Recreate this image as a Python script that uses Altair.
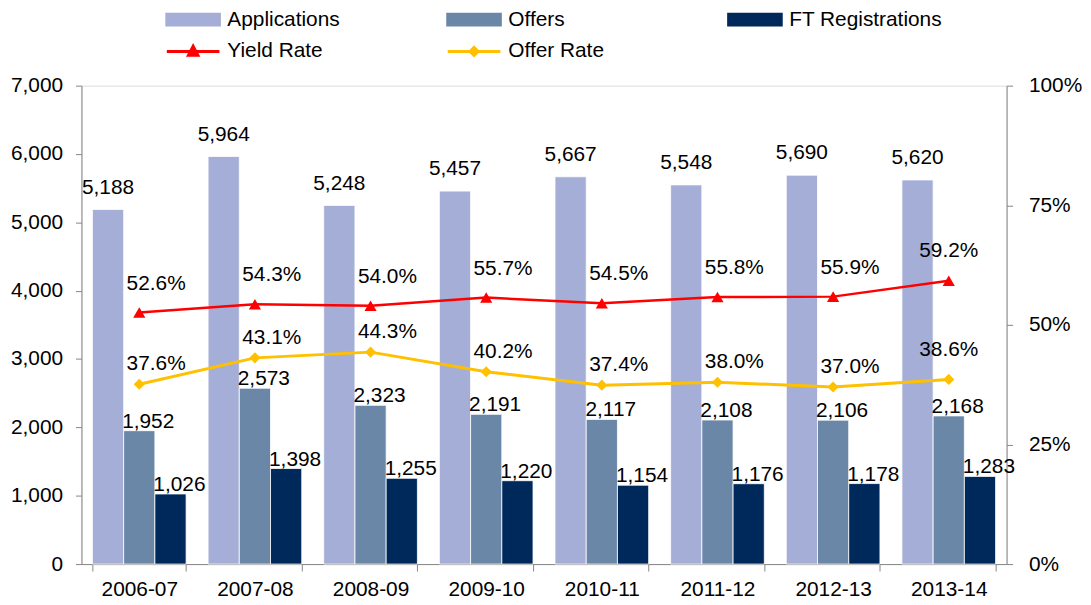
import altair as alt
import pandas as pd

years = ["2006-07", "2007-08", "2008-09", "2009-10", "2010-11", "2011-12", "2012-13", "2013-14"]
applications = [5188, 5964, 5248, 5457, 5667, 5548, 5690, 5620]
offers = [1952, 2573, 2323, 2191, 2117, 2108, 2106, 2168]
ft_registrations = [1026, 1398, 1255, 1220, 1154, 1176, 1178, 1283]
yield_rate = [52.6, 54.3, 54.0, 55.7, 54.5, 55.8, 55.9, 59.2]
offer_rate = [37.6, 43.1, 44.3, 40.2, 37.4, 38.0, 37.0, 38.6]

bar_series = ["Applications", "Offers", "FT Registrations"]
line_series = ["Yield Rate", "Offer Rate"]
colors = ["#A5AED6", "#6B87A8", "#00295B", "#FF0000", "#FFC000"]

rows = []
for name, vals in zip(bar_series, [applications, offers, ft_registrations]):
    for y, v in zip(years, vals):
        rows.append({"year": y, "series": name, "value": v})
bars_df = pd.DataFrame(rows)

rrows = []
for name, vals in zip(line_series, [yield_rate, offer_rate]):
    for y, v in zip(years, vals):
        rrows.append({"year": y, "series": name, "rate": v / 100.0})
rates_df = pd.DataFrame(rrows)

FONT = "Liberation Sans"
FS = 21
GRAY = "#868686"
last_year = years[-1]

shape_expr = (
    "datum.value === 'Yield Rate' ? 'M-3.3125,0H3.3125M-0.6,0.5L0,-0.65L0.6,0.5Z' : "
    "(datum.value === 'Offer Rate' ? 'M-3.3125,0H3.3125M0,-0.5L0.5,0L0,0.5L-0.5,0Z' : "
    "'M-3.3125,-0.6875H3.3125V0.6875H-3.3125Z')"
)
stroke_expr = (
    "indexof(['Yield Rate','Offer Rate'], datum.value) >= 0 ? scale('color', datum.value) : 'transparent'"
)

legend = alt.Legend(
    title=None,
    orient="none",
    legendX=86,
    legendY=-77,
    direction="horizontal",
    columns=3,
    gridAlign="all",
    columnPadding=61,
    rowPadding=9,
    symbolSize=256,
    symbolOffset=16,
    symbolStrokeWidth=3,
    symbolType={"expr": shape_expr},
    symbolStrokeColor={"expr": stroke_expr},
    symbolOpacity=1,
    labelOffset=24,
    labelFont=FONT,
    labelFontSize=FS,
    labelColor="black",
    labelLimit=300,
)

color_scale = alt.Scale(domain=bar_series + line_series, range=colors)

x_enc = alt.X(
    "year:N",
    sort=years,
    scale=alt.Scale(paddingInner=0.19, paddingOuter=0.095),
    axis=alt.Axis(
        title=None,
        labelAngle=0,
        tickBand="extent",
        tickSize=7,
        labelPadding=8,
        domainColor=GRAY,
        tickColor=GRAY,
        labelFont=FONT,
        labelFontSize=FS,
        labelColor="black",
        grid=False,
    ),
)

xoff_enc = alt.XOffset("series:N", sort=bar_series,
                       scale=alt.Scale(domain=bar_series, paddingInner=0, paddingOuter=0))

y_left = alt.Y(
    "value:Q",
    scale=alt.Scale(domain=[0, 7000], nice=False),
    axis=alt.Axis(
        title=None,
        orient="left",
        values=list(range(0, 7001, 1000)),
        format=",.0f",
        tickSize=6,
        labelPadding=13,
        domainColor=GRAY,
        tickColor=GRAY,
        labelFont=FONT,
        labelFontSize=FS,
        labelColor="black",
        grid=False,
    ),
)

y_right = alt.Y(
    "rate:Q",
    scale=alt.Scale(domain=[0, 1], nice=False),
    axis=alt.Axis(
        title=None,
        orient="right",
        values=[0, 0.25, 0.5, 0.75, 1.0],
        format=".0%",
        tickSize=6,
        labelPadding=16,
        domainColor=GRAY,
        tickColor=GRAY,
        labelFont=FONT,
        labelFontSize=FS,
        labelColor="black",
        grid=False,
    ),
)

base_bar = alt.Chart(bars_df)

bars = base_bar.mark_bar(stroke="white", strokeWidth=0.8).encode(
    x=x_enc,
    xOffset=xoff_enc,
    y=y_left,
    color=alt.Color("series:N", scale=color_scale, legend=legend),
)

app_text = base_bar.transform_filter(alt.datum.series == "Applications").mark_text(
    font=FONT, fontSize=FS, baseline="alphabetic", dy=-16, color="black"
).encode(x=x_enc, xOffset=xoff_enc, y=y_left, text=alt.Text("value:Q", format=",.0f"))

other_text = base_bar.transform_filter(alt.datum.series != "Applications").mark_text(
    font=FONT, fontSize=FS, baseline="alphabetic", dy=-3, dx=9, color="black"
).encode(x=x_enc, xOffset=xoff_enc, y=y_left, text=alt.Text("value:Q", format=",.0f"))

left = alt.layer(bars, app_text, other_text)

base_rate = alt.Chart(rates_df)
lines_offer = base_rate.transform_filter(alt.datum.series == "Offer Rate").mark_line(strokeWidth=3).encode(
    x=x_enc, y=y_right, color=alt.Color("series:N", scale=color_scale, legend=None)
)
lines_yield = base_rate.transform_filter(alt.datum.series == "Yield Rate").mark_line(strokeWidth=2.5).encode(
    x=x_enc, y=y_right, color=alt.Color("series:N", scale=color_scale, legend=None)
)
pts_yield = base_rate.transform_filter(alt.datum.series == "Yield Rate").mark_point(
    shape="triangle-up", size=150, filled=True, opacity=1
).encode(x=x_enc, y=y_right, color=alt.Color("series:N", scale=color_scale, legend=None))
pts_offer = base_rate.transform_filter(alt.datum.series == "Offer Rate").mark_point(
    shape="diamond", size=125, filled=True, opacity=1
).encode(x=x_enc, y=y_right, color=alt.Color("series:N", scale=color_scale, legend=None))

rate_fmt = alt.Text("rate:Q", format=".1%")
yield_text = base_rate.transform_filter(
    (alt.datum.series == "Yield Rate") & (alt.datum.year != last_year)
).mark_text(font=FONT, fontSize=FS, baseline="alphabetic", dx=17, dy=-23, color="black").encode(
    x=x_enc, y=y_right, text=rate_fmt)
offer_text = base_rate.transform_filter(
    (alt.datum.series == "Offer Rate") & (alt.datum.year != last_year)
).mark_text(font=FONT, fontSize=FS, baseline="alphabetic", dx=17, dy=-14, color="black").encode(
    x=x_enc, y=y_right, text=rate_fmt)
last_text = base_rate.transform_filter(alt.datum.year == last_year).mark_text(
    font=FONT, fontSize=FS, baseline="alphabetic", dx=0, dy=-24, color="black"
).encode(x=x_enc, y=y_right, text=rate_fmt)

right = alt.layer(lines_yield, lines_offer, pts_yield, pts_offer, yield_text, offer_text, last_text)

chart = alt.layer(left, right).resolve_scale(y="independent").properties(
    width=932,
    height=482,
    padding={"left": 74, "top": 76, "right": 77, "bottom": 38},
    autosize=alt.AutoSizeParams(type="none"),
).configure_view(stroke=None).configure(font=FONT)

chart.save("out.html", embed_options={"renderer": "svg", "actions": False})
